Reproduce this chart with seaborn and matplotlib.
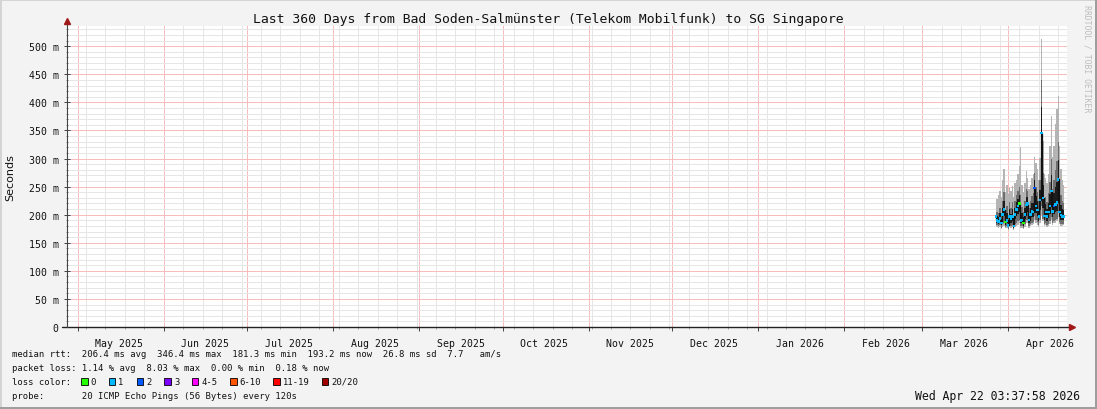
import numpy as np
import pandas as pd
import matplotlib
matplotlib.use("Agg")
import matplotlib.pyplot as plt
import matplotlib.dates as mdates
from matplotlib.patches import Rectangle
from matplotlib.ticker import MultipleLocator, FuncFormatter
import seaborn as sns

# ---------------- data (milliseconds) ----------------
timestamps = pd.date_range("2026-03-27 12:00", periods=50, freq="12h")
median_ms = [197, 190, 188, 193, 185, 200, 209, 187, 190, 181,
             197, 192, 197, 180, 200, 209, 215, 220, 190, 191,
             185, 200, 217, 220, 191, 200, 206, 205, 248, 215,
             208, 197, 226, 345, 230, 198, 205, 197, 205, 215,
             242, 206, 215, 218, 222, 263, 205, 199, 197, 197]
smoke_min = [180, 178, 176, 178, 175, 178, 180, 176, 177, 172,
             178, 176, 178, 172, 178, 180, 182, 185, 176, 176,
             174, 178, 185, 185, 176, 180, 182, 183, 190, 185,
             182, 178, 186, 200, 188, 180, 182, 178, 180, 183,
             190, 182, 185, 186, 188, 195, 183, 180, 180, 182]
smoke_max = [215, 228, 235, 242, 232, 262, 281, 240, 252, 236,
             247, 242, 251, 232, 256, 262, 272, 286, 321, 252,
             241, 256, 277, 266, 246, 252, 266, 272, 302, 292,
             282, 262, 301, 512, 332, 272, 266, 256, 272, 322,
             376, 302, 322, 362, 388, 411, 322, 282, 262, 252]
core_low = [184, 181, 179, 181, 177, 183, 186, 178, 180, 174,
            181, 179, 181, 174, 183, 186, 188, 190, 179, 179,
            176, 183, 190, 191, 179, 184, 186, 187, 198, 190,
            187, 181, 191, 215, 193, 183, 185, 181, 184, 188,
            196, 186, 189, 190, 192, 203, 187, 183, 183, 184]
core_high = [208, 205, 203, 212, 200, 225, 240, 205, 215, 200,
             222, 212, 222, 198, 225, 235, 242, 250, 235, 214,
             205, 225, 245, 242, 212, 224, 234, 238, 275, 250,
             240, 225, 262, 440, 275, 228, 232, 222, 238, 258,
             300, 245, 262, 280, 295, 330, 258, 235, 225, 220]
loss_level = ["1", "1", "1", "1", "1", "1", "1", "0", "1", "1",
              "1", "1", "1", "1", "1", "1", "1", "0", "1", "1",
              "0", "1", "1", "1", "1", "1", "1", "1", "2", "1",
              "1", "1", "1", "1", "1", "1", "1", "1", "1", "1",
              "1", "1", "2", "1", "1", "1", "1", "1", "1", "1"]

loss_labels = ["0", "1", "2", "3", "4-5", "6-10", "11-19", "20/20"]
loss_colors = ["#26ff00", "#00b8ff", "#0059ff", "#7e00ff",
               "#ff00ff", "#ff5500", "#ff0000", "#a10000"]

title = "Last 360 Days from Bad Soden-Salmünster (Telekom Mobilfunk) to SG Singapore"
stats_rtt = "median rtt:  206.4 ms avg  346.4 ms max  181.3 ms min  193.2 ms now  26.8 ms sd  7.7   am/s"
stats_loss = "packet loss: 1.14 % avg  8.03 % max  0.00 % min  0.18 % now"
probe_line = "probe:       20 ICMP Echo Pings (56 Bytes) every 120s"
stamp = "Wed Apr 22 03:37:58 2026"
end_time = pd.Timestamp("2026-04-22 03:37:58")

# ---------------- style ----------------
sns.set_theme(style="white")
plt.rcParams["font.family"] = ["DejaVu Sans Mono"]
W, H = 1097, 410
BG = "#f3f3f3"
fig = plt.figure(figsize=(W / 100, H / 100), dpi=100, facecolor=BG)

def fx(px):
    return px / W

def fy(py):
    return 1 - py / H

ax = fig.add_axes([fx(67), fy(328), fx(1000), 301 / H])
ax.set_facecolor("white")

start_time = end_time - pd.Timedelta(days=360)
ax.set_xlim(start_time, end_time)
ax.set_ylim(0, 536)

# grid
ax.xaxis.set_major_locator(mdates.MonthLocator())
ax.xaxis.set_minor_locator(mdates.WeekdayLocator(byweekday=mdates.SU))
ax.xaxis.set_major_formatter(FuncFormatter(lambda v, p: ""))
ax.yaxis.set_major_locator(MultipleLocator(50))
ax.yaxis.set_minor_locator(MultipleLocator(10))
ax.yaxis.set_major_formatter(FuncFormatter(lambda v, p: "0" if v == 0 else f"{v:.0f} m"))
ax.grid(which="minor", color="#e6e6e6", linestyle="-", linewidth=0.72, antialiased=False)
ax.grid(which="major", color="#f7bcbc", linestyle="-", linewidth=0.72, antialiased=False)
ax.set_axisbelow(True)

for s in ax.spines.values():
    s.set_visible(False)

ax.tick_params(axis="y", which="major", direction="inout", length=4, width=0.7,
               color="#444444", labelsize=7.1, pad=4, left=True, labelcolor="#111111")
ax.tick_params(axis="y", which="minor", direction="inout", length=2, width=0.5,
               color="#666666", left=True)
ax.tick_params(axis="x", which="major", direction="out", length=3, width=0.7,
               color="#444444", bottom=True)
ax.tick_params(axis="x", which="minor", direction="out", length=1.5, width=0.5,
               color="#888888", bottom=True)

# month labels at mid-month
for m in pd.date_range(start_time.normalize(), end_time, freq="MS"):
    mid = m + pd.Timedelta(days=15)
    if start_time < mid < end_time:
        ax.text(mdates.date2num(mid), -0.035, mid.strftime("%b %Y"),
                transform=ax.get_xaxis_transform(), ha="center", va="top",
                fontsize=7.1, color="#111111")

# smoke
ax.fill_between(timestamps, smoke_min, smoke_max, step="mid", color="#b4b4b4", linewidth=0)
ax.fill_between(timestamps, core_low, core_high, step="mid", color="#6e6e6e", linewidth=0)
ax.fill_between(timestamps, [(a + b) / 2 for a, b in zip(core_low, median_ms)],
                [(a + b) / 2 for a, b in zip(core_high, median_ms)],
                step="mid", color="#1c1c1c", linewidth=0)
df = pd.DataFrame({"t": timestamps, "med": median_ms, "loss": loss_level})
sns.lineplot(data=df, x="t", y="med", ax=ax, color="#111111", linewidth=0.9,
             drawstyle="steps-mid", legend=False)
sns.scatterplot(data=df, x="t", y="med", hue="loss", hue_order=loss_labels,
                palette=dict(zip(loss_labels, loss_colors)), marker="s", s=3,
                linewidth=0, ax=ax, legend=False, zorder=5)
ax.set_xlabel("")
ax.set_ylabel("")

# axes lines with arrows
ax.plot([-0.005, 1.004], [0, 0], transform=ax.transAxes, color="#222222", lw=1.0, clip_on=False, zorder=6)
ax.plot([0, 0], [0, 1.012], transform=ax.transAxes, color="#444444", lw=0.8, clip_on=False, zorder=6)
ax.plot([1.0045], [0], marker=">", ms=4, color="#a01818", transform=ax.transAxes, clip_on=False, zorder=7)
ax.plot([0], [1.017], marker="^", ms=4, color="#a01818", transform=ax.transAxes, clip_on=False, zorder=7)

# texts
fig.text(fx(548), fy(19), title, ha="center", va="center", fontsize=9.45, color="#111111")
fig.text(fx(10), fy(177.5), "Seconds", rotation=90, ha="center", va="center",
         fontsize=8, family="DejaVu Sans", color="#111111")
fig.text(fx(1087), fy(59), "RRDTOOL / TOBI OETIKER", rotation=-90, ha="center", va="center",
         fontsize=5.9, color="#bdbdbd")

LS = 6.4
fig.text(fx(12), fy(354.5), stats_rtt, ha="left", va="center", fontsize=LS, color="#111111")
fig.text(fx(12), fy(368.3), stats_loss, ha="left", va="center", fontsize=LS, color="#111111")
fig.text(fx(12), fy(382.3), "loss color:", ha="left", va="center", fontsize=LS, color="#111111")
fig.text(fx(12), fy(396.5), probe_line, ha="left", va="center", fontsize=LS, color="#111111")
box_x = [81, 108.7, 136.7, 164.3, 191.7, 230, 273.3, 321.7]
for bx, lab, col in zip(box_x, loss_labels, loss_colors):
    fig.add_artist(Rectangle((fx(bx), fy(385.8)), 6.5 / W, 7 / H, transform=fig.transFigure,
                             facecolor=col, edgecolor="#000000", linewidth=0.6))
    fig.text(fx(bx + 9.7), fy(382.3), lab, ha="left", va="center", fontsize=LS, color="#111111")
fig.text(fx(1080), fy(396.5), stamp, ha="right", va="center", fontsize=8.3, color="#111111")

# 3D-ish frame
fig.add_artist(Rectangle((0, 1 - 2 / H), 1, 2 / H, transform=fig.transFigure, color="#d4d4d4", lw=0))
fig.add_artist(Rectangle((0, 0), 2 / W, 1, transform=fig.transFigure, color="#d4d4d4", lw=0))
fig.add_artist(Rectangle((0, 0), 1, 2 / H, transform=fig.transFigure, color="#9e9e9e", lw=0))
fig.add_artist(Rectangle((1 - 2 / W, 0), 2 / W, 1, transform=fig.transFigure, color="#9e9e9e", lw=0))

fig.savefig("out.png", dpi=100, facecolor=BG)
